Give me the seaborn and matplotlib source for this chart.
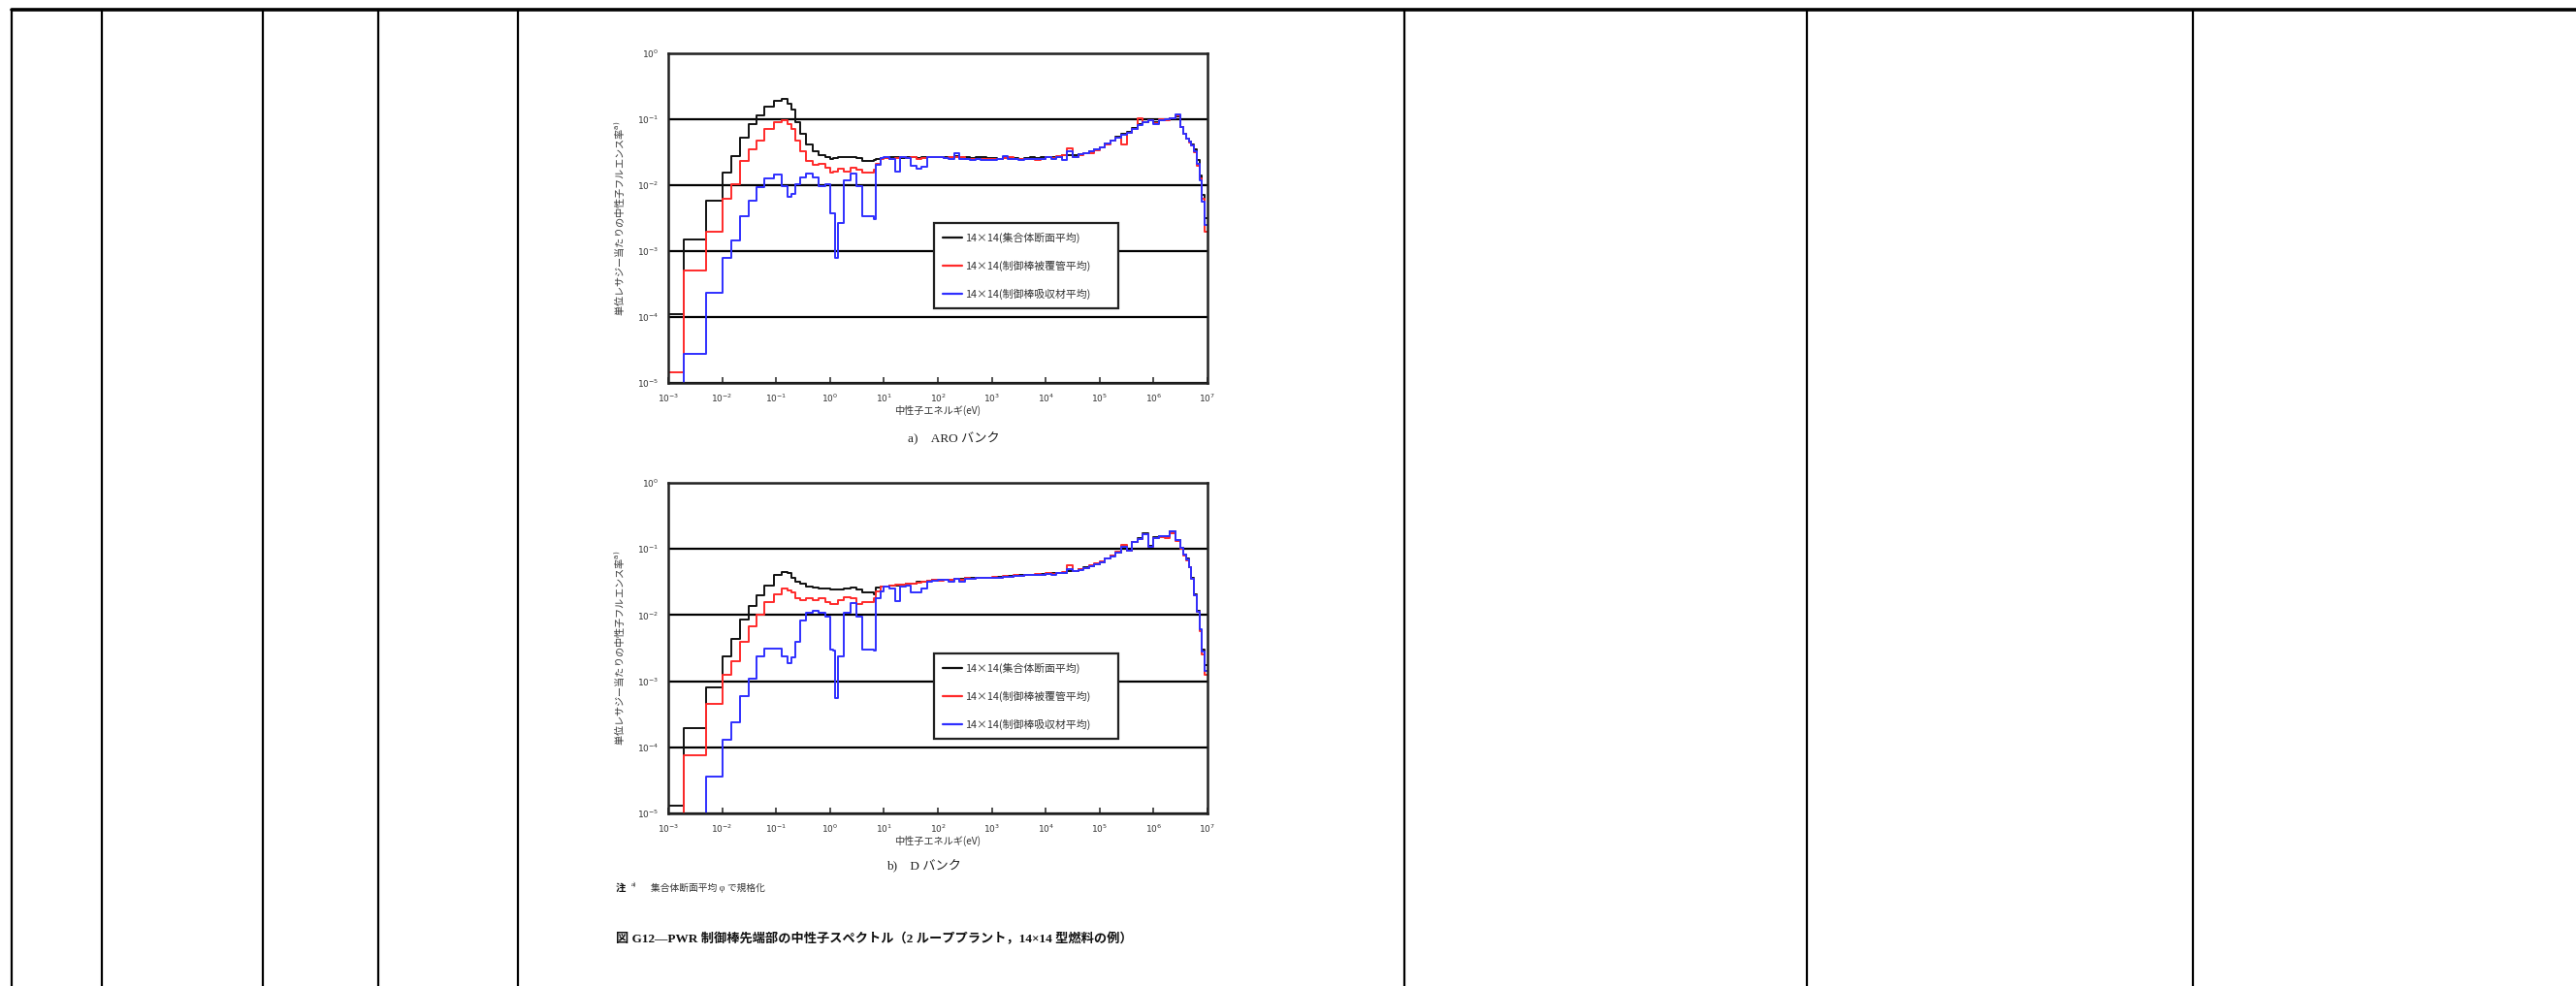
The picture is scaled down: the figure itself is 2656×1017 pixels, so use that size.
import numpy as np
import pandas as pd
import matplotlib
matplotlib.use("Agg")
import matplotlib.pyplot as plt
import seaborn as sns
from matplotlib.lines import Line2D
from matplotlib.ticker import FixedLocator, NullLocator, FuncFormatter

# ---------------- data ----------------
SERIES = ["14×14(集合体断面平均)", "14×14(制御棒被覆管平均)", "14×14(制御棒吸収材平均)"]
COLORS = ["#111111", "#ff2a2a", "#2f2fff"]

# energy group boundaries (eV)
LOW_EDGES_EV = [1.0e-3, 1.95e-3, 4.95e-3, 1.0e-2, 1.46e-2, 2.13e-2, 3.05e-2, 4.29e-2,
                6.15e-2, 9.3e-2, 0.129, 0.163, 0.191, 0.229, 0.284, 0.359, 0.470,
                0.615, 0.806, 1.0, 1.155, 1.26, 1.43, 1.81, 2.37, 3.10, 3.93,
                6.38, 6.98, 8.66, 10.0]
HIGH_EDGES_EXP = [1.1, 1.2, 1.3, 1.4, 1.5, 1.6, 1.7, 1.8, 1.9, 2.0,
                  2.1, 2.2, 2.3, 2.4, 2.5, 2.6, 2.7, 2.8, 2.9, 3.0,
                  3.1, 3.2, 3.3, 3.4, 3.5, 3.6, 3.7, 3.8, 3.9, 4.0,
                  4.1, 4.2, 4.3, 4.4, 4.5, 4.6, 4.7, 4.8, 4.9, 5.0,
                  5.1, 5.2, 5.3, 5.4, 5.5, 5.6, 5.7, 5.8, 5.9, 6.0,
                  6.1, 6.2, 6.3, 6.4, 6.5,
                  6.55, 6.6, 6.65, 6.7, 6.75, 6.8, 6.85, 6.9, 6.95, 7.0]

# log10 of lethargy flux, a) ARO bank
A_BLACK = [-3.95, -2.82, -2.24, -1.81, -1.56, -1.28, -1.08, -0.94, -0.81, -0.72,
           -0.69, -0.76, -0.86, -1.05, -1.22, -1.38, -1.49, -1.54, -1.57, -1.60,
           -1.59, -1.59, -1.58, -1.58, -1.57, -1.59, -1.63, -1.62, -1.60, -1.59,
           -1.59, -1.58, -1.58, -1.59, -1.58, -1.58, -1.59, -1.58, -1.57, -1.58,
           -1.57, -1.58, -1.57, -1.56, -1.58, -1.58, -1.59, -1.58, -1.58, -1.59,
           -1.59, -1.60, -1.58, -1.59, -1.59, -1.60, -1.59, -1.58, -1.59, -1.58,
           -1.57, -1.58, -1.57, -1.55, -1.54, -1.55, -1.53, -1.51, -1.49, -1.46,
           -1.42, -1.37, -1.32, -1.27, -1.22, -1.19, -1.13, -1.08, -1.05, -1.01,
           -1.05, -1.01, -1.00, -0.98, -0.96,
           -1.12, -1.22, -1.30, -1.34, -1.38, -1.45, -1.62, -1.85, -2.15, -2.50]
A_RED = [-4.84, -3.29, -2.71, -2.21, -1.98, -1.63, -1.45, -1.32, -1.14, -1.04,
         -1.02, -1.08, -1.15, -1.32, -1.49, -1.63, -1.69, -1.68, -1.73, -1.81,
         -1.79, -1.79, -1.75, -1.79, -1.73, -1.76, -1.81, -1.76, -1.68, -1.61,
         -1.59, -1.60, -1.59, -1.58, -1.59, -1.58, -1.60, -1.59, -1.57, -1.58,
         -1.57, -1.59, -1.58, -1.57, -1.58, -1.60, -1.60, -1.61, -1.60, -1.61,
         -1.61, -1.60, -1.59, -1.58, -1.60, -1.61, -1.60, -1.61, -1.62, -1.60,
         -1.57, -1.59, -1.56, -1.55, -1.44, -1.57, -1.54, -1.52, -1.51, -1.47,
         -1.43, -1.38, -1.33, -1.28, -1.38, -1.20, -1.14, -0.98, -1.05, -1.02,
         -1.06, -1.00, -1.01, -0.99, -0.94,
         -1.12, -1.22, -1.30, -1.35, -1.40, -1.50, -1.70, -1.90, -2.20, -2.70]
A_BLUE = [-7.00, -4.56, -3.63, -3.10, -2.84, -2.47, -2.23, -2.03, -1.90, -1.84,
          -2.01, -2.17, -2.13, -1.99, -1.88, -1.83, -1.88, -2.01, -1.98, -2.42,
          -2.42, -3.11, -2.57, -1.93, -1.82, -2.01, -2.47, -2.52, -1.69, -1.59,
          -1.58, -1.60, -1.79, -1.58, -1.59, -1.71, -1.75, -1.72, -1.58, -1.57,
          -1.57, -1.59, -1.60, -1.52, -1.60, -1.61, -1.62, -1.61, -1.62, -1.62,
          -1.62, -1.61, -1.56, -1.60, -1.61, -1.62, -1.61, -1.60, -1.61, -1.60,
          -1.58, -1.60, -1.57, -1.62, -1.48, -1.57, -1.53, -1.51, -1.49, -1.46,
          -1.42, -1.37, -1.32, -1.28, -1.24, -1.20, -1.14, -1.09, -1.05, -1.02,
          -1.08, -1.02, -1.00, -0.99, -0.93,
          -1.12, -1.22, -1.30, -1.34, -1.40, -1.48, -1.68, -1.92, -2.25, -2.60]

# log10 of lethargy flux, b) D bank
B_BLACK = [-4.88, -3.71, -3.09, -2.63, -2.36, -2.07, -1.86, -1.70, -1.56, -1.39,
           -1.345, -1.37, -1.43, -1.50, -1.53, -1.57, -1.59, -1.60, -1.60, -1.62,
           -1.61, -1.61, -1.61, -1.60, -1.59, -1.61, -1.66, -1.68, -1.58, -1.57,
           -1.57, -1.56, -1.55, -1.54, -1.53, -1.52, -1.50, -1.49, -1.48, -1.47,
           -1.47, -1.46, -1.46, -1.45, -1.45, -1.44, -1.44, -1.44, -1.43, -1.43,
           -1.43, -1.42, -1.42, -1.41, -1.41, -1.40, -1.40, -1.39, -1.39, -1.38,
           -1.38, -1.37, -1.36, -1.36, -1.34, -1.33, -1.31, -1.28, -1.26, -1.23,
           -1.20, -1.15, -1.10, -1.05, -0.96, -1.02, -0.90, -0.84, -0.76, -0.96,
           -0.82, -0.80, -0.81, -0.74, -0.86,
           -0.98, -1.08, -1.15, -1.27, -1.44, -1.69, -1.93, -2.23, -2.52, -2.75]
B_RED = [-7.00, -4.12, -3.35, -2.91, -2.70, -2.41, -2.17, -2.00, -1.81, -1.69,
         -1.60, -1.63, -1.66, -1.74, -1.78, -1.74, -1.77, -1.74, -1.81, -1.84,
         -1.83, -1.83, -1.77, -1.73, -1.74, -1.83, -1.81, -1.74, -1.64, -1.57,
         -1.57, -1.56, -1.54, -1.54, -1.53, -1.52, -1.51, -1.50, -1.48, -1.47,
         -1.48, -1.46, -1.47, -1.45, -1.46, -1.44, -1.45, -1.44, -1.43, -1.44,
         -1.42, -1.43, -1.41, -1.42, -1.40, -1.41, -1.39, -1.40, -1.38, -1.39,
         -1.37, -1.38, -1.36, -1.35, -1.25, -1.33, -1.31, -1.29, -1.25, -1.22,
         -1.19, -1.14, -1.10, -1.04, -0.94, -1.03, -0.90, -0.85, -0.78, -0.97,
         -0.84, -0.82, -0.83, -0.76, -0.88,
         -0.99, -1.10, -1.17, -1.28, -1.45, -1.70, -1.95, -2.25, -2.60, -2.90]
B_BLUE = [-7.00, -7.00, -4.44, -3.89, -3.62, -3.22, -2.96, -2.62, -2.50, -2.50,
          -2.62, -2.72, -2.64, -2.41, -2.08, -1.97, -1.93, -1.96, -2.03, -2.52,
          -2.54, -3.25, -2.62, -1.96, -1.82, -2.03, -2.52, -2.54, -1.74, -1.64,
          -1.57, -1.60, -1.79, -1.57, -1.55, -1.66, -1.66, -1.60, -1.50, -1.48,
          -1.47, -1.47, -1.49, -1.45, -1.50, -1.45, -1.45, -1.44, -1.44, -1.44,
          -1.43, -1.43, -1.42, -1.42, -1.41, -1.41, -1.40, -1.40, -1.39, -1.39,
          -1.38, -1.39, -1.37, -1.36, -1.30, -1.34, -1.32, -1.29, -1.26, -1.23,
          -1.20, -1.15, -1.11, -1.05, -0.97, -1.03, -0.90, -0.85, -0.77, -0.97,
          -0.83, -0.81, -0.80, -0.73, -0.87,
          -0.98, -1.08, -1.16, -1.27, -1.45, -1.70, -1.95, -2.22, -2.55, -2.85]

X_TICKS_EXP = [-3, -2, -1, 0, 1, 2, 3, 4, 5, 6, 7]
Y_TICKS_EXP = [-5, -4, -3, -2, -1, 0]

# ---------------- styling ----------------
sns.set_theme(style="white")
plt.rcParams["font.family"] = ["Noto Sans CJK JP", "DejaVu Sans"]
plt.rcParams["axes.unicode_minus"] = False

W, H = 2656, 1017
fig = plt.figure(figsize=(W / 100, H / 100), dpi=100)
fig.patch.set_facecolor("white")

edges = np.array(LOW_EDGES_EV + [10.0 ** e for e in HIGH_EDGES_EXP])


def make_df(series_vals):
    frames = []
    for name, vals in zip(SERIES, series_vals):
        v = np.array(vals + [vals[-1]], dtype=float)
        frames.append(pd.DataFrame({"E": edges, "phi": 10.0 ** v, "series": name}))
    return pd.concat(frames, ignore_index=True)


def draw(rect, series_vals):
    ax = fig.add_axes(rect)
    df = make_df(series_vals)
    sns.lineplot(data=df, x="E", y="phi", hue="series", hue_order=SERIES,
                 palette=COLORS, drawstyle="steps-post", estimator=None,
                 sort=False, lw=1.4, ax=ax)
    ax.set_xscale("log")
    ax.set_yscale("log")
    ax.set_xlim(1e-3, 1e7)
    ax.set_ylim(1e-5, 1.0)
    ax.xaxis.set_major_locator(FixedLocator([10.0 ** e for e in X_TICKS_EXP]))
    ax.yaxis.set_major_locator(FixedLocator([10.0 ** e for e in Y_TICKS_EXP]))
    ax.xaxis.set_minor_locator(NullLocator())
    ax.yaxis.set_minor_locator(NullLocator())
    fmt = FuncFormatter(lambda v, p: r"$10^{%d}$" % int(round(np.log10(v))))
    ax.xaxis.set_major_formatter(fmt)
    ax.yaxis.set_major_formatter(fmt)
    ax.tick_params(axis="x", direction="in", length=4, width=1.2, pad=7,
                   labelsize=6.5, colors="#333333", bottom=True)
    ax.tick_params(axis="y", length=0, pad=7, labelsize=6.5, colors="#333333", left=True)
    ax.yaxis.grid(True, color="black", lw=1.6)
    ax.xaxis.grid(False)
    ax.set_axisbelow(True)
    for s in ax.spines.values():
        s.set_color("#222222")
        s.set_linewidth(1.8)
    ax.set_xlabel("中性子エネルギ(eV)", fontsize=7.3, color="#333333")
    ax.set_ylabel("単位レサジー当たりの中性子フルエンス率$^{\\mathrm{a)}}$",
                  fontsize=7.3, color="#333333")
    ax.xaxis.set_label_coords(0.5, -0.068)
    ax.yaxis.set_label_coords(-0.078, 0.5)
    handles, labels = ax.get_legend_handles_labels()
    leg = ax.legend(handles, labels, loc="lower left",
                    bbox_to_anchor=(0.493, 0.226, 0.342, 0.25), mode="expand",
                    fontsize=7.8, labelspacing=1.65, borderpad=0.85,
                    handlelength=1.8, handletextpad=0.3, frameon=True,
                    fancybox=False, framealpha=1.0, borderaxespad=0)
    leg.get_frame().set_edgecolor("#222222")
    leg.get_frame().set_linewidth(1.6)
    for t in leg.get_texts():
        t.set_color("#333333")
    for l in leg.get_lines():
        l.set_linewidth(1.6)
    return ax


ax_a = draw([689 / W, 1 - 395 / H, 556 / W, 340 / H], [A_BLACK, A_RED, A_BLUE])
ax_b = draw([689 / W, 1 - 839 / H, 556 / W, 341 / H], [B_BLACK, B_RED, B_BLUE])

serif_cjk = ["Liberation Serif", "Noto Sans CJK JP"]
fig.text(983 / W, 1 - 452 / H, "a)\u3000ARO バンク", family=serif_cjk,
         fontsize=9.5, ha="center", va="center", color="#222222")
fig.text(953 / W, 1 - 893 / H, "b)\u3000D バンク", family=serif_cjk,
         fontsize=9.5, ha="center", va="center", color="#222222")
fig.text(635 / W, 1 - 916 / H, "注", family=["Noto Sans CJK JP"], fontweight="bold",
         fontsize=7.5, ha="left", va="center", color="#111111")
fig.text(651 / W, 1 - 912 / H, "a)", family=serif_cjk,
         fontsize=5, ha="left", va="center", color="#111111")
fig.text(671 / W, 1 - 916 / H, "集合体断面平均 φ で規格化", family=serif_cjk,
         fontsize=7, ha="left", va="center", color="#333333")
fig.text(635 / W, 1 - 969 / H,
         "図 G12—PWR 制御棒先端部の中性子スペクトル（2 ループプラント，14×14 型燃料の例）",
         family=serif_cjk, fontweight="bold", fontsize=9.5, ha="left", va="center",
         color="#111111")

# table frame
fig.add_artist(Line2D([12 / W, 1.0], [1 - 10 / H, 1 - 10 / H], color="black", lw=2.6))
for xv in [12, 105, 271, 390, 534, 1448, 1863, 2261]:
    fig.add_artist(Line2D([xv / W, xv / W], [0.0, 1 - 10 / H], color="black", lw=1.6))

fig.savefig("out.png", dpi=100, facecolor="white")
